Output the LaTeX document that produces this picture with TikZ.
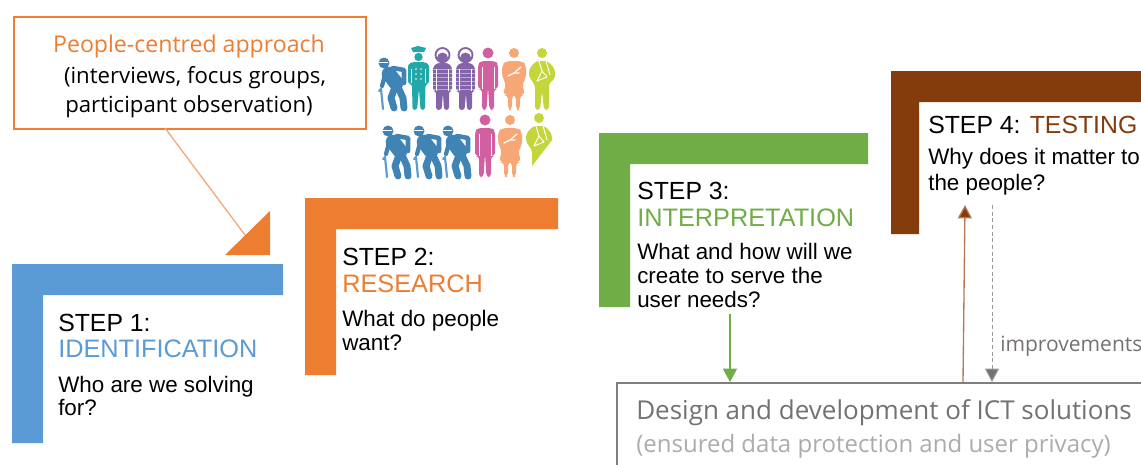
\documentclass[tikz,border=0pt]{standalone}
\usepackage{fontspec}
\setmainfont{Liberation Sans}
\newfontfamily\segoe{Open Sans}
\usetikzlibrary{arrows.meta}
\definecolor{cblue}{HTML}{5B9BD5}
\definecolor{corange}{HTML}{ED7D31}
\definecolor{clorange}{HTML}{F4A97A}
\definecolor{cgreen}{HTML}{70AD47}
\definecolor{cbrown}{HTML}{843C0C}
\definecolor{cbrownl}{HTML}{B5795A}
\definecolor{cgrey}{HTML}{7F7F7F}
\definecolor{ctext}{HTML}{767171}
\definecolor{clight}{HTML}{AFABAB}
\definecolor{pblue}{HTML}{3F84B5}
\definecolor{pcyan}{HTML}{22A8A8}
\definecolor{ppurple}{HTML}{8464A8}
\definecolor{ppink}{HTML}{D0609F}
\definecolor{porange}{HTML}{F7A676}
\definecolor{plime}{HTML}{C5D63D}
\newcommand{\pxfont}[1]{\pgfmathsetmacro{\fsz}{#1*0.75}\fontsize{\fsz}{\fsz}\selectfont}
\newcommand{\elderman}[2]{\begin{scope}[shift={(#1,#2)},line cap=round,line join=round,pblue]
 \fill (6,7) circle[radius=5.5];
 \draw[white,line width=.6pt] (1,6) -- (10,6);
 \draw[line width=11pt] (11,18) -- (18,27);
 \draw[line width=5.2pt] (17,31) -- (13,42) -- (16,52);
 \draw[line width=5.2pt] (20,31) -- (25,42) -- (26,52);
 \draw[line width=3.4pt] (15,12) -- (26,14) -- (26,27);
 \draw[line width=3.2pt] (7,19) -- (4,30);
 \draw[line width=1.6pt,cblue] (1,35) -- (3,33) -- (5,53);
\end{scope}}
\newcommand{\guardman}[2]{\begin{scope}[shift={(#1,#2)},pcyan,line join=round]
 \fill (5,5) -- (16,5) -- (18,1) -- (10,-1) -- (3,1) -- cycle;
 \fill (10.5,10) circle[radius=4.2];
 \fill[rounded corners=2pt] (0,17) -- (5,15) -- (16,15) -- (21,17) -- (21,37) -- (17.5,37) -- (17,63) -- (12.5,63) -- (11,42) -- (9,63) -- (4.5,63) -- (4,37) -- (0,37) -- cycle;
 \draw[white,line width=.5pt] (3.5,22) -- (3.5,36) (17.5,22) -- (17.5,36);
 \foreach \yy in {22,27,32} {\fill[white] (8,\yy) circle[radius=.8] (13,\yy) circle[radius=.8];}
\end{scope}}
\newcommand{\purpleman}[2]{\begin{scope}[shift={(#1,#2)},ppurple,line join=round]
 \draw[line width=1.4pt] (9.5,8) circle[radius=7];
 \fill (9.5,11) circle[radius=5.5];
 \fill[rounded corners=2pt] (0,20) -- (4,16) -- (15,16) -- (19,20) -- (19,44) -- (16,44) -- (16,63) -- (11,63) -- (10,46) -- (8.5,63) -- (3,63) -- (3,44) -- (0,44) -- cycle;
 \foreach \yy in {22,26,30,34,38,42} {\draw[white,opacity=.45,line width=.4pt] (0,\yy) -- (19,\yy);}
 \draw[white,line width=.5pt] (3.5,22) -- (3.5,44) (15.5,22) -- (15.5,44);
\end{scope}}
\newcommand{\pinkman}[2]{\begin{scope}[shift={(#1,#2)},ppink,line join=round]
 \fill (10,6) circle[radius=5.5];
 \fill[rounded corners=2.5pt] (0,17) -- (3,14) -- (17,14) -- (20,17) -- (20,42) -- (16,42) -- (16,63) -- (11.5,63) -- (10,40) -- (8.5,63) -- (4,63) -- (4,42) -- (0,42) -- cycle;
 \draw[white,line width=.6pt] (4,20) -- (4,42) (16,20) -- (16,42);
\end{scope}}
\newcommand{\orangewoman}[2]{\begin{scope}[shift={(#1,#2)},porange,line join=round]
 \fill (12,6) circle[radius=5];
 \fill[rounded corners=3pt] (0,18) -- (4,14) -- (20,14) -- (24,18) -- (24,32) -- (20,36) -- (23,48) -- (18,48) -- (18,63) -- (14,63) -- (14,48) -- (10,48) -- (10,63) -- (6,63) -- (6,48) -- (1,48) -- (4,36) -- (0,30) -- cycle;
 \draw[white,line width=.9pt,line cap=round] (6,29) -- (12,26) -- (19,20) (12,26) -- (17,26);
\end{scope}}
\newcommand{\limeman}[2]{\begin{scope}[shift={(#1,#2)},plime,line join=round]
 \fill (13,6) circle[radius=5];
 \fill[rounded corners=2.5pt] (0,22) -- (7,14) -- (19,14) -- (26,22) -- (26,32) -- (20,36) -- (20,63) -- (15,63) -- (13,44) -- (11,63) -- (6,63) -- (6,38) -- (0,30) -- cycle;
 \draw[white,line width=.7pt] (10,14) -- (13,24) -- (18,30) -- (8,34) -- (13,24) (17,14) -- (21,28);
\end{scope}}
\begin{document}
\begin{tikzpicture}[x=0.75pt,y=-0.75pt,
  bracket/.style={fill=#1,draw=none},
  steptitle/.style={anchor=base west,inner sep=0pt,font=\pxfont{24.8}},
  stepname/.style={anchor=base west,inner sep=0pt,font=\pxfont{25.3},text=#1},
  question/.style={anchor=base west,inner sep=0pt,font=\pxfont{22.4},align=left},
  calltext/.style={anchor=base,inner sep=0pt,font=\segoe\pxfont{22.2}},
  arrowline/.style={draw=#1,line width=1pt,-{Triangle[length=10pt,width=10.5pt,fill=#1]}}]
\useasboundingbox (0,0) rectangle (1141,464);
\clip (0,0) rectangle (1141,464);
% brackets
\fill[bracket=cblue] (12,264) -- (283,264) -- (283,295) -- (43,295) -- (43,443) -- (12,443) -- cycle;
\fill[bracket=corange] (305,198) -- (558,198) -- (558,229) -- (336,229) -- (336,375) -- (305,375) -- cycle;
\fill[bracket=cgreen] (599,133) -- (868,133) -- (868,164) -- (630,164) -- (630,307) -- (599,307) -- cycle;
\fill[bracket=cbrown] (891,71) -- (1141,71) -- (1141,102) -- (919,102) -- (919,234) -- (891,234) -- cycle;
% callout
\node[draw=corange,line width=1.5pt,fill=white,minimum width=264pt,minimum height=84pt,inner sep=0pt,anchor=north west] (call) at (13,16) {};
\node[calltext,text=corange,font=\segoe\pxfont{23.1}] (calla) at (189,52) {People-centred approach};
\node[calltext] (callb) at (195,83) {(interviews, focus groups,};
\node[calltext] (callc) at (189,112) {participant observation)};
\coordinate (tristart) at (165,128);
\coordinate (triend) at (245,235);
\fill[corange] (225,255) -- (270,211) -- (270,255) -- cycle;
\draw[clorange,line width=1pt] (tristart) -- (triend);
% step texts
\node[steptitle] (s1) at (58,331) {STEP 1:};
\node[stepname=cblue] (s1n) at (58,357) {IDENTIFICATION};
\node[question] (s1q) at (58,392) {Who are we solving};
\node[question] (s1r) at (58,415) {for?};
\node[steptitle] (s2) at (342,265) {STEP 2:};
\node[stepname=corange] (s2n) at (342,292) {RESEARCH};
\node[question] (s2q) at (342,326) {What do people};
\node[question] (s2r) at (342,350) {want?};
\node[steptitle] (s3) at (637,199) {STEP 3:};
\node[stepname=cgreen] (s3n) at (637,226) {INTERPRETATION};
\node[question] (s3q) at (637,259) {What and how will we};
\node[question] (s3r) at (637,283) {create to serve the};
\node[question] (s3s) at (637,307) {user needs?};
\node[steptitle] (s4) at (928,133) {STEP 4: \textcolor{cbrown}{TESTING}};
\node[question] (s4q) at (928,164) {Why does it matter to};
\node[question] (s4r) at (928,190) {the people?};
% design box
\node[draw=cgrey,line width=1.8pt,fill=white,minimum width=450pt,minimum height=90pt,inner sep=0pt,anchor=north west] (design) at (616,382) {};
\node[anchor=base west,inner sep=0pt,text=ctext,font=\segoe\pxfont{26}] (d1) at (636,419) {Design and development of ICT solutions};
\node[anchor=base west,inner sep=0pt,text=clight,font=\segoe\pxfont{24}] (d2) at (636,452) {(ensured data protection and user privacy)};
\node[anchor=base west,inner sep=0pt,text=ctext,font=\segoe\pxfont{21}] (imp) at (1000,351) {improvements};
% connectors
\coordinate (ga) at (730,314);
\coordinate (ba) at (965,205);
\coordinate (bb) at (963,300);
\coordinate (gr) at (992,205);
\draw[arrowline=cgreen] (ga) -- (ga |- design.north);
\draw[line width=1pt,draw=cbrownl,-{Triangle[length=10pt,width=10.5pt,fill=cbrown]}] (bb |- design.north) -- (ba);
\draw[draw=cgrey!80,line width=.7pt,dash pattern=on 3pt off 2pt,-{Triangle[length=10pt,width=10.5pt,fill=ctext]}] (gr) -- (gr |- design.north);
% people
\elderman{378}{56}
\guardman{408}{47}
\purpleman{433}{47}
\purpleman{456}{47}
\pinkman{478}{47}
\orangewoman{502}{47}
\limeman{529}{47}
\elderman{382}{124}
\elderman{413}{124}
\elderman{442}{124}
\pinkman{475}{114}
\orangewoman{498}{114}
\begin{scope}
\clip (520,110) rectangle (556,135) (526,135) -- (556,135) -- (532,166) -- (526,140) -- cycle;
\limeman{526}{112}
\end{scope}
\end{tikzpicture}
\end{document}
